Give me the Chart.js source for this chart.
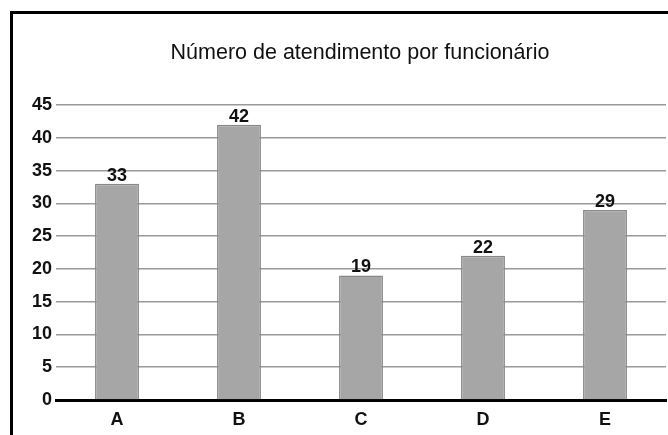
<!DOCTYPE html>
<html>
<head>
<meta charset="utf-8">
<script src="https://cdn.jsdelivr.net/npm/chart.js@4/dist/chart.umd.min.js"></script>
<style>
  html, body { margin: 0; padding: 0; background: #fff; overflow: hidden; width: 668px; height: 435px; }
  #frame { position: absolute; left: 10px; top: 11px; width: 700px; height: 450px; border-left: 3px solid #000; border-top: 3px solid #000; }
  #wrap { position: absolute; left: 12px; top: 14px; width: 696px; height: 440px; }
  #title { position: absolute; left: 160px; width: 400px; top: 39px; text-align: center; font-family: 'Liberation Sans', Arial, Helvetica, sans-serif; font-size: 21.5px; line-height: 26px; color: #111; white-space: nowrap; }
</style>
</head>
<body>
<div id="frame"></div>
<div id="wrap"><canvas id="c"></canvas></div>
<div id="title"></div>
<script>
const titleText = "Número de atendimento por funcionário";
const categories = ["A", "B", "C", "D", "E"];
const values = [33, 42, 19, 22, 29];
const yTicks = [0, 5, 10, 15, 20, 25, 30, 35, 40, 45];

const FONT = "'Liberation Sans', Arial, Helvetica, sans-serif";
document.getElementById('title').textContent = titleText;

const valueLabels = {
  id: 'valueLabels',
  afterDatasetsDraw(chart) {
    const ctx = chart.ctx;
    const meta = chart.getDatasetMeta(0);
    ctx.save();
    ctx.font = "bold 18px " + FONT;
    ctx.fillStyle = "#111";
    ctx.textAlign = "center";
    ctx.textBaseline = "alphabetic";
    meta.data.forEach((bar, i) => {
      ctx.fillText(String(values[i]), bar.x, bar.y - 3);
    });
    ctx.restore();
  }
};

new Chart(document.getElementById('c'), {
  type: 'bar',
  data: {
    labels: categories,
    datasets: [{
      data: values,
      backgroundColor: '#a6a6a6',
      borderColor: '#888888',
      borderWidth: 1.5,
      barPercentage: 0.36,
      categoryPercentage: 1.0
    }]
  },
  options: {
    responsive: true,
    maintainAspectRatio: false,
    animation: false,
    layout: { padding: { left: 0, right: 42, top: 91, bottom: 0 } },
    plugins: {
      legend: { display: false },
      tooltip: { enabled: false },
      title: { display: false }
    },
    scales: {
      x: {
        grid: { display: false, drawTicks: false },
        border: { display: true, color: '#000', width: 3 },
        ticks: { color: '#111', font: { family: FONT, size: 18, weight: 'bold' }, padding: 9 },
        afterFit(s) { s.height = 54; }
      },
      y: {
        min: 0, max: 45,
        afterBuildTicks(s) { s.ticks = yTicks.map(v => ({ value: v })); },
        grid: { color: '#9a9a9a', lineWidth: 1.5, drawTicks: false },
        border: { display: false },
        ticks: { color: '#111', font: { family: FONT, size: 18, weight: 'bold' }, padding: 4 },
        afterFit(s) { s.width = 44; }
      }
    }
  },
  plugins: [valueLabels]
});
</script>
</body>
</html>
